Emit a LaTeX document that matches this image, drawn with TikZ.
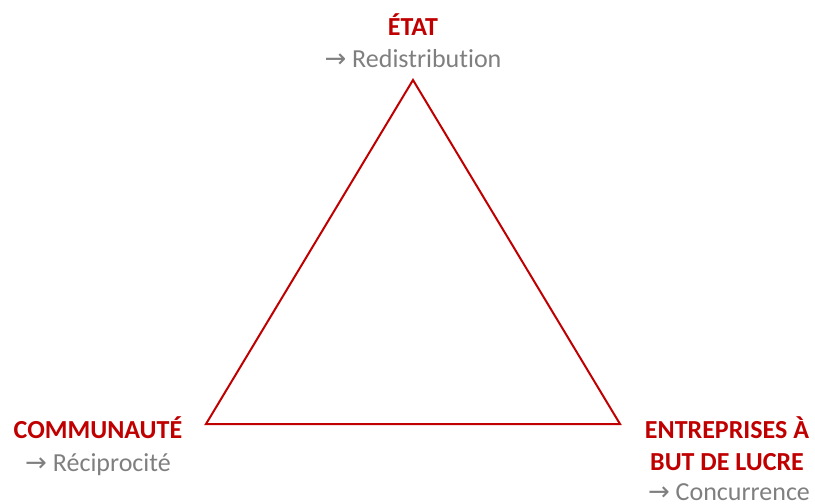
\documentclass[tikz,border=0pt]{standalone}
\usepackage{fontspec}
\setmainfont{Carlito}[Ligatures=NoCommon]
\newfontfamily\symfont{DejaVu Sans}
\definecolor{titred}{HTML}{C00000}
\definecolor{subgray}{HTML}{7F7F7F}
\tikzset{
  pole/.style={font=\bfseries\fontsize{19.5}{23.5}\selectfont, text=titred,
    align=center, anchor=base, inner sep=0pt},
  means/.style={font=\fontsize{19.5}{23.5}\selectfont, text=subgray,
    anchor=base, inner sep=0pt},
  side/.style={titred, line width=1.5pt, line join=miter}
}
\newcommand{\towards}{{\symfont\char"2192}\ }

\begin{document}
\begin{tikzpicture}[x=0.75pt,y=-0.75pt]
    \useasboundingbox (0,0) rectangle (815,504);
    % corners of the triangle
    \coordinate (etat) at (413,80);
    \coordinate (comm) at (206,424);
    \coordinate (entr) at (620,424);
    \draw[side] (etat) -- (entr) -- (comm) -- cycle;
    % labels
    \node[pole] (etatname) at (413,35) {ÉTAT};
    \node[means] (etatmode) at (413,67) {\towards Redistribution};
    \node[pole] (commname) at (98,438) {COMMUNAUTÉ};
    \node[means] (commmode) at (98,471) {\towards Réciprocité};
    \node[pole] (entrname) at (727,470) {ENTREPRISES À\\BUT DE LUCRE};
    \node[means] (entrmode) at (729,500) {\towards Concurrence};
\end{tikzpicture}
\end{document}
